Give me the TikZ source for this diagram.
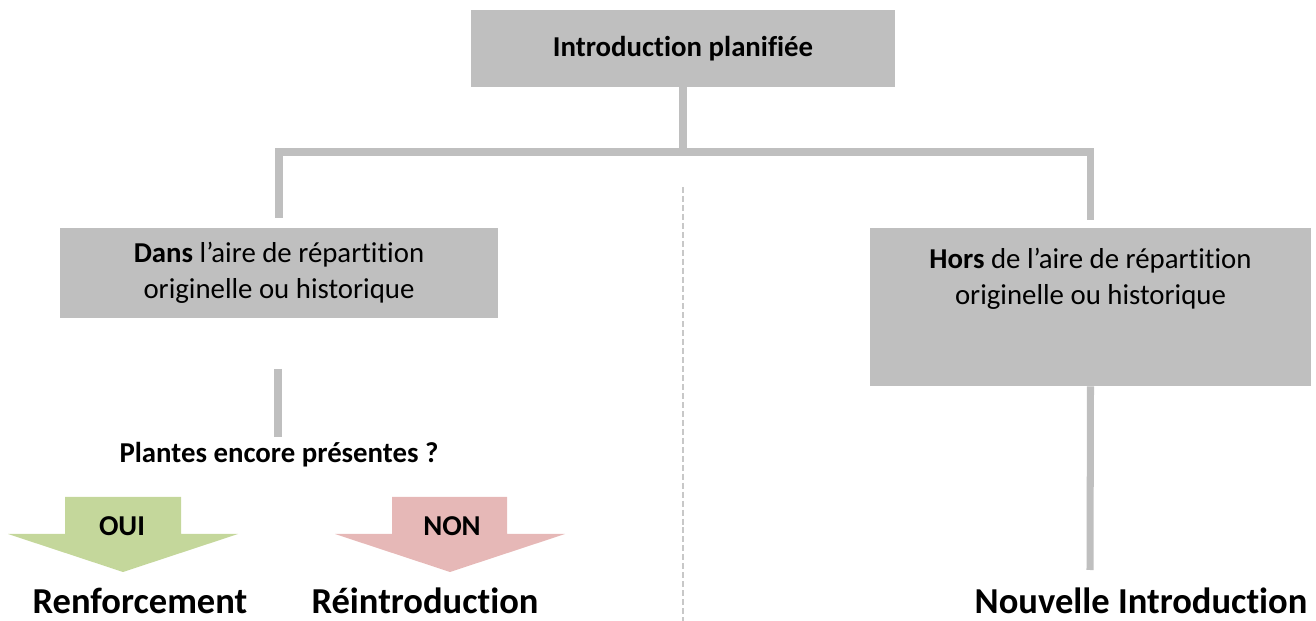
\documentclass[tikz,border=0pt]{standalone}
\usepackage{fontspec}
\setmainfont{Carlito}[Ligatures=NoCommon]
\usetikzlibrary{positioning, calc}

\definecolor{boxgrey}{HTML}{BFBFBF}
\definecolor{sepgrey}{HTML}{C8C8C8}
\definecolor{ouigreen}{HTML}{C4D79B}
\definecolor{nonred}{HTML}{E6B8B7}

\begin{document}
\begin{tikzpicture}[x=0.02cm, y=-0.02cm,
    greybox/.style={fill=boxgrey, inner sep=0pt, align=center,
                    font=\fontsize{16.4}{20.5}\selectfont},
    conn/.style={draw=boxgrey, line width=4pt},
    small/.style={font=\fontsize{16.4}{20.5}\selectfont\bfseries},
    big/.style={font=\fontsize{20.8}{24}\selectfont\bfseries, anchor=base}]
  \useasboundingbox (0,0) rectangle (1316,621);

  % Boxes
  \node[greybox, minimum width=8.48cm, minimum height=1.54cm] (intro) at (683,48.5)
    {\textbf{Introduction planifiée}};
  \node[greybox, minimum width=8.76cm, minimum height=1.8cm] (dans) at (279,273)
    {\textbf{Dans} l’aire de répartition\\ originelle ou historique};
  \node[greybox, minimum width=8.82cm, minimum height=3.16cm, inner ysep=0.4cm] (hors) at (1090.5,307)
    {\parbox[c][2.36cm][t]{8.6cm}{\centering\textbf{Hors} de l’aire de répartition\\ originelle ou historique}};

  % Branches
  \coordinate (bar) at (683,152);
  \draw[conn] (intro.south) -- (bar);
  \draw[conn] ([yshift=5.7pt]dans.north) -- (dans.north |- bar) -- (hors.north |- bar)
    -- ([yshift=4.5pt]hors.north);

  % Separator
  \draw[sepgrey, line width=0.8pt, dash pattern=on 3.4pt off 1.7pt] (683,187) -- (683,621);

  % Question
  \node[small, anchor=base] (question) at (279,463) {Plantes encore présentes ?};
  \coordinate (stem) at (278,369);
  \draw[conn] (stem) -- (stem |- question.north);

  % OUI / NON arrows
  \fill[ouigreen] (65,497) -- (181,497) -- (181,534) -- (238,534) -- (123,572)
    -- (8,534) -- (65,534) -- cycle;
  \node[small] (oui) at (122,526) {OUI};
  \fill[nonred] (392,497) -- (507,497) -- (507,534) -- (565,534) -- (450,572)
    -- (335,534) -- (392,534) -- cycle;
  \node[small] (non) at (452,526) {NON};

  % Outcomes
  \node[big] (renf) at (140,614) {Renforcement};
  \node[big] (reintro) at (425,614) {Réintroduction};
  \node[big] (nouv) at (1141,614) {Nouvelle Introduction};
  \coordinate (nouvtop) at (1090,570);
  \draw[conn] (hors.south) -- (nouvtop);
\end{tikzpicture}
\end{document}
